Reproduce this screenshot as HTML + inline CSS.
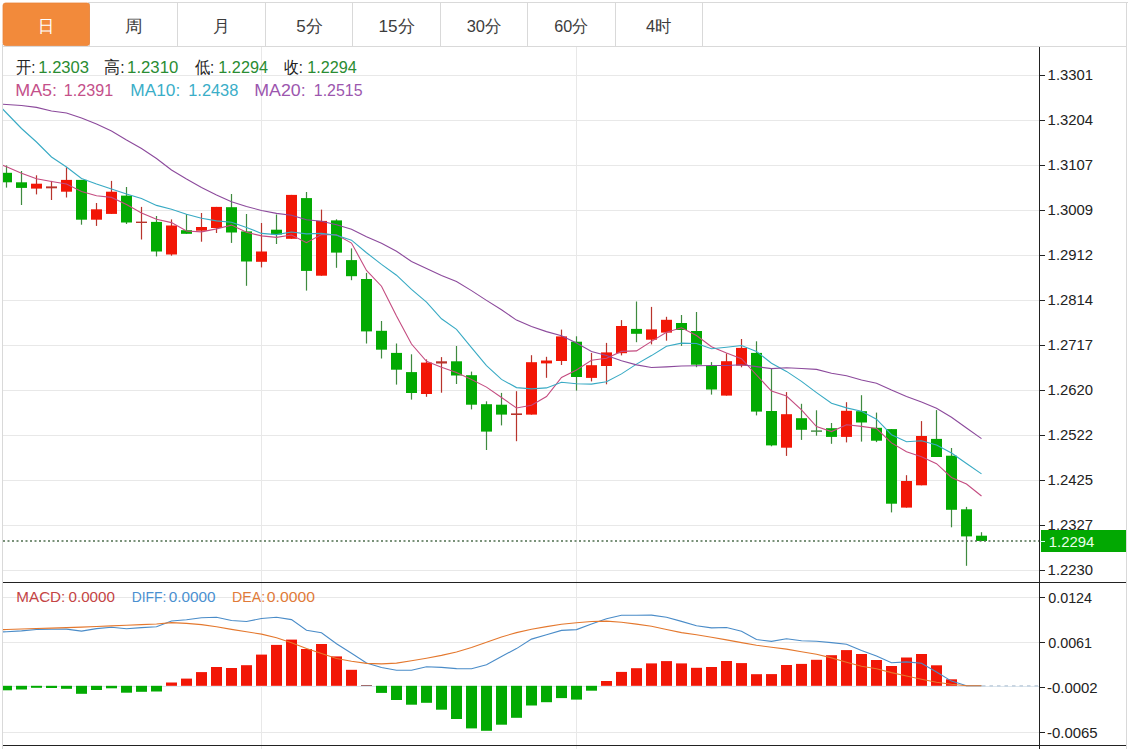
<!DOCTYPE html><html><head><meta charset="utf-8"><style>html,body{margin:0;padding:0;background:#fff;width:1135px;height:749px;overflow:hidden}svg{display:block}text{font-family:"Liberation Sans",sans-serif}</style></head><body>
<svg width="1135" height="749" viewBox="0 0 1135 749">
<rect width="1135" height="749" fill="#fff"/>
<g stroke="#e8e8e8" stroke-width="1" shape-rendering="crispEdges">
<line x1="3" y1="75.5" x2="1039" y2="75.5"/>
<line x1="3" y1="120.5" x2="1039" y2="120.5"/>
<line x1="3" y1="165.5" x2="1039" y2="165.5"/>
<line x1="3" y1="210.5" x2="1039" y2="210.5"/>
<line x1="3" y1="255.5" x2="1039" y2="255.5"/>
<line x1="3" y1="300.5" x2="1039" y2="300.5"/>
<line x1="3" y1="345.5" x2="1039" y2="345.5"/>
<line x1="3" y1="390.5" x2="1039" y2="390.5"/>
<line x1="3" y1="435.5" x2="1039" y2="435.5"/>
<line x1="3" y1="480.5" x2="1039" y2="480.5"/>
<line x1="3" y1="525.5" x2="1039" y2="525.5"/>
<line x1="3" y1="570.5" x2="1039" y2="570.5"/>
<line x1="3" y1="597.5" x2="1039" y2="597.5"/>
<line x1="3" y1="642.5" x2="1039" y2="642.5"/>
<line x1="3" y1="732.5" x2="1039" y2="732.5"/>
<line x1="3" y1="686.5" x2="1039" y2="686.5" stroke="#dce6ee"/>
<line x1="261.5" y1="47" x2="261.5" y2="749"/>
<line x1="576.5" y1="47" x2="576.5" y2="749"/>
</g>
<g stroke="#d9d9d9" stroke-width="1" shape-rendering="crispEdges" fill="none">
<line x1="2.5" y1="44" x2="2.5" y2="749"/>
<line x1="1126.5" y1="3" x2="1126.5" y2="749"/>
<line x1="88" y1="2.5" x2="1128" y2="2.5"/>
<line x1="2" y1="46.5" x2="1127" y2="46.5"/>
<line x1="89.5" y1="3" x2="89.5" y2="46"/>
<line x1="177.5" y1="3" x2="177.5" y2="46"/>
<line x1="265.5" y1="3" x2="265.5" y2="46"/>
<line x1="352.5" y1="3" x2="352.5" y2="46"/>
<line x1="440.5" y1="3" x2="440.5" y2="46"/>
<line x1="527.5" y1="3" x2="527.5" y2="46"/>
<line x1="615.5" y1="3" x2="615.5" y2="46"/>
<line x1="702.5" y1="3" x2="702.5" y2="46"/>
</g>
<path d="M5.5,3 H87 Q89.5,3 89.5,5.5 V43 Q89.5,45.5 87,45.5 H5.5 Q3,45.5 3,43 V5.5 Q3,3 5.5,3 Z" fill="#f28a3b" stroke="#e8843a" stroke-width="0.8"/>
<text x="16.00" y="73.00" font-size="16.7" fill="#222" textLength="19.48" lengthAdjust="spacingAndGlyphs">开:</text>
<text x="38.31" y="73.00" font-size="16.7" fill="#2a8c32" textLength="50.74" lengthAdjust="spacingAndGlyphs">1.2303</text>
<text x="104.26" y="73.00" font-size="16.7" fill="#222" textLength="20.34" lengthAdjust="spacingAndGlyphs">高:</text>
<text x="127.10" y="73.00" font-size="16.7" fill="#2a8c32" textLength="51.15" lengthAdjust="spacingAndGlyphs">1.2310</text>
<text x="194.70" y="73.00" font-size="16.7" fill="#222" textLength="19.37" lengthAdjust="spacingAndGlyphs">低:</text>
<text x="218.33" y="73.00" font-size="16.7" fill="#2a8c32" textLength="49.62" lengthAdjust="spacingAndGlyphs">1.2294</text>
<text x="283.80" y="73.00" font-size="16.7" fill="#222" textLength="18.96" lengthAdjust="spacingAndGlyphs">收:</text>
<text x="307.13" y="73.00" font-size="16.7" fill="#2a8c32" textLength="49.52" lengthAdjust="spacingAndGlyphs">1.2294</text>
<text x="15.23" y="96.20" font-size="16.7" fill="#c4508a" textLength="41.80" lengthAdjust="spacingAndGlyphs">MA5:</text>
<text x="63.73" y="96.20" font-size="16.7" fill="#c4508a" textLength="49.41" lengthAdjust="spacingAndGlyphs">1.2391</text>
<text x="130.26" y="96.20" font-size="16.7" fill="#3aaec8" textLength="50.02" lengthAdjust="spacingAndGlyphs">MA10:</text>
<text x="188.22" y="96.20" font-size="16.7" fill="#3aaec8" textLength="50.13" lengthAdjust="spacingAndGlyphs">1.2438</text>
<text x="254.23" y="96.20" font-size="16.7" fill="#9c56ae" textLength="51.38" lengthAdjust="spacingAndGlyphs">MA20:</text>
<text x="313.85" y="96.20" font-size="16.7" fill="#9c56ae" textLength="48.70" lengthAdjust="spacingAndGlyphs">1.2515</text>
<text x="37.89" y="31.50" font-size="17" fill="#fff" textLength="16.22" lengthAdjust="spacingAndGlyphs">日</text>
<text x="124.97" y="31.50" font-size="17" fill="#3c3c3c" textLength="17.57" lengthAdjust="spacingAndGlyphs">周</text>
<text x="213.11" y="31.50" font-size="17" fill="#3c3c3c" textLength="16.87" lengthAdjust="spacingAndGlyphs">月</text>
<text x="296.30" y="31.50" font-size="17" fill="#3c3c3c" textLength="26.36" lengthAdjust="spacingAndGlyphs">5分</text>
<text x="378.49" y="31.50" font-size="17" fill="#3c3c3c" textLength="36.24" lengthAdjust="spacingAndGlyphs">15分</text>
<text x="466.70" y="31.50" font-size="17" fill="#3c3c3c" textLength="34.69" lengthAdjust="spacingAndGlyphs">30分</text>
<text x="554.20" y="31.50" font-size="17" fill="#3c3c3c" textLength="34.07" lengthAdjust="spacingAndGlyphs">60分</text>
<text x="646.00" y="31.50" font-size="17" fill="#3c3c3c" textLength="25.45" lengthAdjust="spacingAndGlyphs">4时</text>
<defs><clipPath id="cm"><rect x="3" y="47" width="1036" height="535"/></clipPath><clipPath id="cd"><rect x="3" y="583" width="1036" height="162"/></clipPath></defs>
<g clip-path="url(#cm)">
<rect x="5.9" y="165.4" width="1.2" height="22.2" fill="#3f8a3f"/>
<rect x="1.0" y="172.8" width="11" height="9.5" fill="#02aa02"/>
<rect x="20.9" y="171.0" width="1.2" height="34.0" fill="#3f8a3f"/>
<rect x="16.0" y="182.3" width="11" height="5.6" fill="#02aa02"/>
<rect x="35.9" y="175.3" width="1.2" height="19.1" fill="#b8342c"/>
<rect x="31.0" y="183.7" width="11" height="4.9" fill="#f21606"/>
<rect x="50.9" y="180.9" width="1.2" height="19.1" fill="#b8342c"/>
<rect x="46.0" y="186.4" width="11" height="1.9" fill="#b8342c"/>
<rect x="65.9" y="167.3" width="1.2" height="30.2" fill="#b8342c"/>
<rect x="61.0" y="179.9" width="11" height="11.8" fill="#f21606"/>
<rect x="80.9" y="179.9" width="1.2" height="44.8" fill="#3f8a3f"/>
<rect x="76.0" y="179.9" width="11" height="39.8" fill="#02aa02"/>
<rect x="95.9" y="203.0" width="1.2" height="22.9" fill="#b8342c"/>
<rect x="91.0" y="209.3" width="11" height="10.4" fill="#f21606"/>
<rect x="110.9" y="180.9" width="1.2" height="33.0" fill="#b8342c"/>
<rect x="106.0" y="191.7" width="11" height="22.2" fill="#f21606"/>
<rect x="125.9" y="187.0" width="1.2" height="37.0" fill="#3f8a3f"/>
<rect x="121.0" y="195.6" width="11" height="26.9" fill="#02aa02"/>
<rect x="140.9" y="206.9" width="1.2" height="32.6" fill="#b8342c"/>
<rect x="136.0" y="221.6" width="11" height="1.4" fill="#b8342c"/>
<rect x="155.9" y="216.0" width="1.2" height="40.4" fill="#3f8a3f"/>
<rect x="151.0" y="221.9" width="11" height="29.6" fill="#02aa02"/>
<rect x="170.9" y="219.4" width="1.2" height="36.3" fill="#b8342c"/>
<rect x="166.0" y="225.5" width="11" height="29.0" fill="#f21606"/>
<rect x="185.9" y="214.0" width="1.2" height="19.8" fill="#3f8a3f"/>
<rect x="181.0" y="230.2" width="11" height="3.6" fill="#02aa02"/>
<rect x="200.9" y="213.0" width="1.2" height="28.7" fill="#b8342c"/>
<rect x="196.0" y="227.0" width="11" height="3.7" fill="#f21606"/>
<rect x="215.9" y="206.9" width="1.2" height="26.1" fill="#b8342c"/>
<rect x="211.0" y="206.9" width="11" height="21.1" fill="#f21606"/>
<rect x="230.9" y="194.0" width="1.2" height="48.9" fill="#3f8a3f"/>
<rect x="226.0" y="207.2" width="11" height="25.3" fill="#02aa02"/>
<rect x="245.9" y="214.0" width="1.2" height="71.8" fill="#3f8a3f"/>
<rect x="241.0" y="231.4" width="11" height="30.1" fill="#02aa02"/>
<rect x="260.9" y="223.0" width="1.2" height="44.4" fill="#b8342c"/>
<rect x="256.0" y="251.5" width="11" height="10.3" fill="#f21606"/>
<rect x="275.9" y="214.5" width="1.2" height="29.5" fill="#3f8a3f"/>
<rect x="271.0" y="229.7" width="11" height="4.8" fill="#02aa02"/>
<rect x="290.9" y="194.9" width="1.2" height="43.9" fill="#b8342c"/>
<rect x="286.0" y="194.9" width="11" height="43.9" fill="#f21606"/>
<rect x="305.9" y="192.0" width="1.2" height="98.6" fill="#3f8a3f"/>
<rect x="301.0" y="198.1" width="11" height="72.8" fill="#02aa02"/>
<rect x="320.9" y="209.6" width="1.2" height="66.1" fill="#b8342c"/>
<rect x="316.0" y="220.9" width="11" height="54.8" fill="#f21606"/>
<rect x="335.9" y="219.3" width="1.2" height="48.5" fill="#3f8a3f"/>
<rect x="331.0" y="220.4" width="11" height="32.2" fill="#02aa02"/>
<rect x="350.9" y="248.4" width="1.2" height="31.8" fill="#3f8a3f"/>
<rect x="346.0" y="260.1" width="11" height="16.1" fill="#02aa02"/>
<rect x="365.9" y="272.9" width="1.2" height="70.6" fill="#3f8a3f"/>
<rect x="361.0" y="279.0" width="11" height="52.4" fill="#02aa02"/>
<rect x="380.9" y="321.0" width="1.2" height="37.5" fill="#3f8a3f"/>
<rect x="376.0" y="330.8" width="11" height="18.9" fill="#02aa02"/>
<rect x="395.9" y="343.5" width="1.2" height="41.1" fill="#3f8a3f"/>
<rect x="391.0" y="352.9" width="11" height="16.8" fill="#02aa02"/>
<rect x="410.9" y="354.3" width="1.2" height="45.3" fill="#3f8a3f"/>
<rect x="406.0" y="372.1" width="11" height="20.9" fill="#02aa02"/>
<rect x="425.9" y="359.4" width="1.2" height="37.4" fill="#b8342c"/>
<rect x="421.0" y="362.6" width="11" height="31.4" fill="#f21606"/>
<rect x="440.9" y="357.1" width="1.2" height="35.6" fill="#b8342c"/>
<rect x="436.0" y="361.3" width="11" height="2.2" fill="#b8342c"/>
<rect x="455.9" y="346.0" width="1.2" height="38.0" fill="#3f8a3f"/>
<rect x="451.0" y="361.3" width="11" height="14.2" fill="#02aa02"/>
<rect x="470.9" y="371.6" width="1.2" height="37.8" fill="#3f8a3f"/>
<rect x="466.0" y="375.2" width="11" height="29.5" fill="#02aa02"/>
<rect x="485.9" y="401.3" width="1.2" height="48.7" fill="#3f8a3f"/>
<rect x="481.0" y="404.2" width="11" height="27.4" fill="#02aa02"/>
<rect x="500.9" y="392.9" width="1.2" height="32.5" fill="#3f8a3f"/>
<rect x="496.0" y="404.7" width="11" height="9.9" fill="#02aa02"/>
<rect x="515.9" y="391.2" width="1.2" height="50.0" fill="#b8342c"/>
<rect x="511.0" y="413.4" width="11" height="1.6" fill="#b8342c"/>
<rect x="530.9" y="355.2" width="1.2" height="59.4" fill="#b8342c"/>
<rect x="526.0" y="362.2" width="11" height="52.4" fill="#f21606"/>
<rect x="545.9" y="356.8" width="1.2" height="21.0" fill="#b8342c"/>
<rect x="541.0" y="360.5" width="11" height="2.9" fill="#f21606"/>
<rect x="560.9" y="329.6" width="1.2" height="35.4" fill="#b8342c"/>
<rect x="556.0" y="336.4" width="11" height="24.6" fill="#f21606"/>
<rect x="575.9" y="336.3" width="1.2" height="54.3" fill="#3f8a3f"/>
<rect x="571.0" y="341.7" width="11" height="35.3" fill="#02aa02"/>
<rect x="590.9" y="352.9" width="1.2" height="28.5" fill="#b8342c"/>
<rect x="586.0" y="365.2" width="11" height="12.7" fill="#f21606"/>
<rect x="605.9" y="342.9" width="1.2" height="41.4" fill="#b8342c"/>
<rect x="601.0" y="352.4" width="11" height="13.6" fill="#f21606"/>
<rect x="620.9" y="320.1" width="1.2" height="35.3" fill="#b8342c"/>
<rect x="616.0" y="326.0" width="11" height="27.2" fill="#f21606"/>
<rect x="635.9" y="301.5" width="1.2" height="40.7" fill="#3f8a3f"/>
<rect x="631.0" y="328.9" width="11" height="4.9" fill="#02aa02"/>
<rect x="650.9" y="306.9" width="1.2" height="37.5" fill="#b8342c"/>
<rect x="646.0" y="329.4" width="11" height="10.3" fill="#f21606"/>
<rect x="665.9" y="316.8" width="1.2" height="23.9" fill="#b8342c"/>
<rect x="661.0" y="319.8" width="11" height="12.8" fill="#f21606"/>
<rect x="680.9" y="315.0" width="1.2" height="30.9" fill="#3f8a3f"/>
<rect x="676.0" y="323.0" width="11" height="7.0" fill="#02aa02"/>
<rect x="695.9" y="312.0" width="1.2" height="55.2" fill="#3f8a3f"/>
<rect x="691.0" y="331.0" width="11" height="33.7" fill="#02aa02"/>
<rect x="710.9" y="362.1" width="1.2" height="32.5" fill="#3f8a3f"/>
<rect x="706.0" y="365.6" width="11" height="23.9" fill="#02aa02"/>
<rect x="725.9" y="353.4" width="1.2" height="42.2" fill="#b8342c"/>
<rect x="721.0" y="361.2" width="11" height="34.4" fill="#f21606"/>
<rect x="740.9" y="339.0" width="1.2" height="28.3" fill="#b8342c"/>
<rect x="736.0" y="347.9" width="11" height="17.7" fill="#f21606"/>
<rect x="755.9" y="341.3" width="1.2" height="74.1" fill="#3f8a3f"/>
<rect x="751.0" y="352.9" width="11" height="58.7" fill="#02aa02"/>
<rect x="770.9" y="369.0" width="1.2" height="77.3" fill="#3f8a3f"/>
<rect x="766.0" y="411.0" width="11" height="34.4" fill="#02aa02"/>
<rect x="785.9" y="392.1" width="1.2" height="63.8" fill="#b8342c"/>
<rect x="781.0" y="414.2" width="11" height="33.5" fill="#f21606"/>
<rect x="800.9" y="403.8" width="1.2" height="36.1" fill="#3f8a3f"/>
<rect x="796.0" y="418.2" width="11" height="11.6" fill="#02aa02"/>
<rect x="815.9" y="410.3" width="1.2" height="25.4" fill="#3f8a3f"/>
<rect x="811.0" y="430.4" width="11" height="1.4" fill="#3f8a3f"/>
<rect x="830.9" y="423.0" width="1.2" height="20.8" fill="#3f8a3f"/>
<rect x="826.0" y="428.2" width="11" height="8.7" fill="#02aa02"/>
<rect x="845.9" y="402.2" width="1.2" height="40.2" fill="#b8342c"/>
<rect x="841.0" y="410.8" width="11" height="26.1" fill="#f21606"/>
<rect x="860.9" y="395.2" width="1.2" height="46.4" fill="#3f8a3f"/>
<rect x="856.0" y="411.2" width="11" height="11.3" fill="#02aa02"/>
<rect x="875.9" y="412.6" width="1.2" height="29.5" fill="#3f8a3f"/>
<rect x="871.0" y="427.8" width="11" height="12.9" fill="#02aa02"/>
<rect x="890.9" y="429.1" width="1.2" height="83.3" fill="#3f8a3f"/>
<rect x="886.0" y="429.1" width="11" height="74.6" fill="#02aa02"/>
<rect x="905.9" y="475.2" width="1.2" height="32.4" fill="#b8342c"/>
<rect x="901.0" y="481.0" width="11" height="26.6" fill="#f21606"/>
<rect x="920.9" y="421.1" width="1.2" height="64.2" fill="#b8342c"/>
<rect x="916.0" y="436.0" width="11" height="49.3" fill="#f21606"/>
<rect x="935.9" y="410.1" width="1.2" height="46.9" fill="#3f8a3f"/>
<rect x="931.0" y="438.9" width="11" height="18.1" fill="#02aa02"/>
<rect x="950.9" y="448.0" width="1.2" height="79.3" fill="#3f8a3f"/>
<rect x="946.0" y="455.7" width="11" height="54.1" fill="#02aa02"/>
<rect x="965.9" y="506.9" width="1.2" height="58.9" fill="#3f8a3f"/>
<rect x="961.0" y="509.3" width="11" height="27.1" fill="#02aa02"/>
<rect x="980.9" y="532.2" width="1.2" height="8.8" fill="#3f8a3f"/>
<rect x="976.0" y="535.7" width="11" height="5.3" fill="#02aa02"/>
<polyline points="-8.5,160.4 6.5,166.8 21.5,173.2 36.5,178.8 51.5,181.5 66.5,184.0 81.5,191.5 96.5,195.8 111.5,197.4 126.5,204.6 141.5,213.0 156.5,219.3 171.5,222.6 186.5,231.0 201.5,231.9 216.5,228.9 231.5,225.1 246.5,232.3 261.5,235.9 276.5,237.4 291.5,235.0 306.5,242.7 321.5,234.5 336.5,234.8 351.5,243.1 366.5,270.4 381.5,286.2 396.5,315.9 411.5,344.0 426.5,361.3 441.5,367.3 456.5,372.4 471.5,379.4 486.5,387.1 501.5,397.5 516.5,408.0 531.5,405.3 546.5,396.5 561.5,377.4 576.5,369.9 591.5,360.3 606.5,358.3 621.5,351.4 636.5,350.9 651.5,341.4 666.5,332.3 681.5,327.8 696.5,335.5 711.5,346.7 726.5,353.0 741.5,358.7 756.5,375.0 771.5,391.1 786.5,396.1 801.5,409.8 816.5,426.6 831.5,431.6 846.5,424.7 861.5,426.4 876.5,428.5 891.5,442.9 906.5,451.7 921.5,456.8 936.5,463.7 951.5,477.5 966.5,484.0 981.5,496.0" fill="none" stroke="#c44c80" stroke-width="1.1"/>
<polyline points="-8.5,97.5 6.5,113.0 21.5,128.5 36.5,142.0 51.5,157.0 66.5,167.0 81.5,178.5 96.5,184.0 111.5,189.0 126.5,194.0 141.5,198.5 156.5,205.4 171.5,209.2 186.5,214.2 201.5,218.2 216.5,220.9 231.5,222.2 246.5,227.4 261.5,233.4 276.5,234.6 291.5,232.0 306.5,233.9 321.5,233.4 336.5,235.3 351.5,240.2 366.5,252.7 381.5,264.4 396.5,275.2 411.5,289.4 426.5,302.2 441.5,318.8 456.5,329.3 471.5,347.7 486.5,365.6 501.5,379.4 516.5,387.6 531.5,388.9 546.5,387.9 561.5,382.3 576.5,383.7 591.5,384.1 606.5,381.8 621.5,373.9 636.5,364.1 651.5,355.6 666.5,346.3 681.5,343.1 696.5,343.5 711.5,348.8 726.5,347.2 741.5,345.5 756.5,351.4 771.5,363.3 786.5,371.4 801.5,381.4 816.5,392.6 831.5,403.3 846.5,407.9 861.5,411.2 876.5,419.2 891.5,434.7 906.5,441.7 921.5,440.7 936.5,445.0 951.5,453.0 966.5,463.5 981.5,473.9" fill="none" stroke="#38aac4" stroke-width="1.1"/>
<polyline points="-8.5,103.5 6.5,104.5 21.5,105.5 36.5,107.4 51.5,111.0 66.5,113.0 81.5,118.0 96.5,124.0 111.5,131.0 126.5,140.0 141.5,148.5 156.5,158.5 171.5,170.0 186.5,179.0 201.5,187.5 216.5,195.0 231.5,201.7 246.5,206.5 261.5,210.5 276.5,213.4 291.5,215.2 306.5,219.7 321.5,221.3 336.5,224.8 351.5,229.2 366.5,236.8 381.5,243.3 396.5,251.3 411.5,261.4 426.5,268.4 441.5,275.4 456.5,281.6 471.5,290.6 486.5,300.4 501.5,309.8 516.5,320.1 531.5,326.6 546.5,331.6 561.5,335.8 576.5,343.0 591.5,351.5 606.5,355.5 621.5,360.8 636.5,364.9 651.5,367.5 666.5,366.9 681.5,366.0 696.5,365.7 711.5,365.5 726.5,365.5 741.5,364.8 756.5,366.6 771.5,368.6 786.5,367.8 801.5,368.5 816.5,369.4 831.5,373.2 846.5,375.7 861.5,380.0 876.5,383.2 891.5,390.1 906.5,396.5 921.5,402.0 936.5,408.2 951.5,417.2 966.5,428.0 981.5,438.6" fill="none" stroke="#8c4a9c" stroke-width="1.1"/>
<line x1="3" y1="541" x2="1039" y2="541" stroke="#4d6d4d" stroke-width="1.5" stroke-dasharray="2,2.5"/>
</g>
<g clip-path="url(#cd)">
<rect x="1.0" y="685.8" width="11" height="4.5" fill="#02aa02"/>
<rect x="16.0" y="685.8" width="11" height="3.7" fill="#02aa02"/>
<rect x="31.0" y="685.8" width="11" height="2.0" fill="#02aa02"/>
<rect x="46.0" y="685.8" width="11" height="2.2" fill="#02aa02"/>
<rect x="61.0" y="685.8" width="11" height="3.0" fill="#02aa02"/>
<rect x="76.0" y="685.8" width="11" height="8.0" fill="#02aa02"/>
<rect x="91.0" y="685.8" width="11" height="4.2" fill="#02aa02"/>
<rect x="106.0" y="685.8" width="11" height="2.5" fill="#02aa02"/>
<rect x="121.0" y="685.8" width="11" height="6.9" fill="#02aa02"/>
<rect x="136.0" y="685.8" width="11" height="6.0" fill="#02aa02"/>
<rect x="151.0" y="685.8" width="11" height="5.7" fill="#02aa02"/>
<rect x="166.0" y="682.5" width="11" height="3.3" fill="#f21606"/>
<rect x="181.0" y="678.6" width="11" height="7.2" fill="#f21606"/>
<rect x="196.0" y="672.1" width="11" height="13.7" fill="#f21606"/>
<rect x="211.0" y="667.0" width="11" height="18.8" fill="#f21606"/>
<rect x="226.0" y="668.0" width="11" height="17.8" fill="#f21606"/>
<rect x="241.0" y="665.2" width="11" height="20.6" fill="#f21606"/>
<rect x="256.0" y="654.6" width="11" height="31.2" fill="#f21606"/>
<rect x="271.0" y="644.9" width="11" height="40.9" fill="#f21606"/>
<rect x="286.0" y="639.6" width="11" height="46.2" fill="#f21606"/>
<rect x="301.0" y="649.0" width="11" height="36.8" fill="#f21606"/>
<rect x="316.0" y="644.0" width="11" height="41.8" fill="#f21606"/>
<rect x="331.0" y="656.4" width="11" height="29.4" fill="#f21606"/>
<rect x="346.0" y="669.8" width="11" height="16.0" fill="#f21606"/>
<rect x="361.0" y="685.0" width="11" height="0.8" fill="#8a4848"/>
<rect x="376.0" y="685.8" width="11" height="7.1" fill="#02aa02"/>
<rect x="391.0" y="685.8" width="11" height="14.2" fill="#02aa02"/>
<rect x="406.0" y="685.8" width="11" height="18.9" fill="#02aa02"/>
<rect x="421.0" y="685.8" width="11" height="17.0" fill="#02aa02"/>
<rect x="436.0" y="685.8" width="11" height="23.9" fill="#02aa02"/>
<rect x="451.0" y="685.8" width="11" height="33.2" fill="#02aa02"/>
<rect x="466.0" y="685.8" width="11" height="42.6" fill="#02aa02"/>
<rect x="481.0" y="685.8" width="11" height="45.0" fill="#02aa02"/>
<rect x="496.0" y="685.8" width="11" height="38.9" fill="#02aa02"/>
<rect x="511.0" y="685.8" width="11" height="32.0" fill="#02aa02"/>
<rect x="526.0" y="685.8" width="11" height="19.7" fill="#02aa02"/>
<rect x="541.0" y="685.8" width="11" height="16.4" fill="#02aa02"/>
<rect x="556.0" y="685.8" width="11" height="12.3" fill="#02aa02"/>
<rect x="571.0" y="685.8" width="11" height="13.8" fill="#02aa02"/>
<rect x="586.0" y="685.8" width="11" height="4.9" fill="#02aa02"/>
<rect x="601.0" y="681.0" width="11" height="4.8" fill="#f21606"/>
<rect x="616.0" y="671.9" width="11" height="13.9" fill="#f21606"/>
<rect x="631.0" y="668.2" width="11" height="17.6" fill="#f21606"/>
<rect x="646.0" y="663.4" width="11" height="22.4" fill="#f21606"/>
<rect x="661.0" y="661.1" width="11" height="24.7" fill="#f21606"/>
<rect x="676.0" y="663.4" width="11" height="22.4" fill="#f21606"/>
<rect x="691.0" y="667.8" width="11" height="18.0" fill="#f21606"/>
<rect x="706.0" y="667.0" width="11" height="18.8" fill="#f21606"/>
<rect x="721.0" y="661.0" width="11" height="24.8" fill="#f21606"/>
<rect x="736.0" y="663.1" width="11" height="22.7" fill="#f21606"/>
<rect x="751.0" y="674.2" width="11" height="11.6" fill="#f21606"/>
<rect x="766.0" y="674.1" width="11" height="11.7" fill="#f21606"/>
<rect x="781.0" y="665.0" width="11" height="20.8" fill="#f21606"/>
<rect x="796.0" y="663.9" width="11" height="21.9" fill="#f21606"/>
<rect x="811.0" y="659.8" width="11" height="26.0" fill="#f21606"/>
<rect x="826.0" y="655.2" width="11" height="30.6" fill="#f21606"/>
<rect x="841.0" y="650.1" width="11" height="35.7" fill="#f21606"/>
<rect x="856.0" y="654.0" width="11" height="31.8" fill="#f21606"/>
<rect x="871.0" y="660.0" width="11" height="25.8" fill="#f21606"/>
<rect x="886.0" y="666.0" width="11" height="19.8" fill="#f21606"/>
<rect x="901.0" y="657.5" width="11" height="28.3" fill="#f21606"/>
<rect x="916.0" y="654.0" width="11" height="31.8" fill="#f21606"/>
<rect x="931.0" y="665.3" width="11" height="20.5" fill="#f21606"/>
<rect x="946.0" y="679.3" width="11" height="6.5" fill="#f21606"/>
<polyline points="-8.5,632.6 6.5,631.7 21.5,630.9 36.5,629.5 51.5,629.2 66.5,629.1 81.5,631.1 96.5,628.6 111.5,627.2 126.5,628.8 141.5,627.6 156.5,626.8 171.5,621.0 186.5,619.8 201.5,617.8 216.5,617.3 231.5,620.5 246.5,621.5 261.5,618.5 276.5,617.2 291.5,619.6 306.5,630.2 321.5,632.7 336.5,643.8 351.5,653.3 366.5,663.0 381.5,667.5 396.5,670.2 411.5,670.2 426.5,666.7 441.5,667.4 456.5,668.6 471.5,668.8 486.5,664.7 501.5,656.4 516.5,648.6 531.5,639.1 546.5,634.8 561.5,630.4 576.5,629.6 591.5,623.9 606.5,618.7 621.5,615.3 636.5,615.3 651.5,615.1 666.5,617.2 681.5,621.4 696.5,625.8 711.5,627.9 726.5,627.5 741.5,631.3 756.5,639.5 771.5,641.4 786.5,638.7 801.5,640.7 816.5,641.3 831.5,642.6 846.5,644.3 861.5,650.4 876.5,655.9 891.5,662.7 906.5,661.9 921.5,663.3 936.5,672.0 951.5,681.1 966.5,685.8 981.5,685.8" fill="none" stroke="#4a8cc8" stroke-width="1.1"/>
<polyline points="-8.5,629.9 6.5,629.5 21.5,629.0 36.5,628.5 51.5,628.1 66.5,627.6 81.5,627.1 96.5,626.5 111.5,625.9 126.5,625.3 141.5,624.6 156.5,624.0 171.5,622.6 186.5,623.4 201.5,624.6 216.5,626.7 231.5,629.4 246.5,631.8 261.5,634.1 276.5,637.7 291.5,642.7 306.5,648.6 321.5,653.6 336.5,658.5 351.5,661.3 366.5,663.4 381.5,663.9 396.5,663.1 411.5,660.7 426.5,658.2 441.5,655.4 456.5,652.0 471.5,647.5 486.5,642.2 501.5,636.9 516.5,632.6 531.5,629.3 546.5,626.6 561.5,624.2 576.5,622.7 591.5,621.5 606.5,621.1 621.5,622.2 636.5,624.1 651.5,626.3 666.5,629.5 681.5,632.6 696.5,634.8 711.5,637.3 726.5,639.9 741.5,642.6 756.5,645.3 771.5,647.2 786.5,649.1 801.5,651.7 816.5,654.3 831.5,657.9 846.5,662.2 861.5,666.3 876.5,668.8 891.5,672.6 906.5,676.0 921.5,679.2 936.5,682.3 951.5,684.3 966.5,685.8 981.5,685.8" fill="none" stroke="#e4782e" stroke-width="1.1"/>
<line x1="982" y1="685.8" x2="1039" y2="685.8" stroke="#b8c8d8" stroke-width="1.2" stroke-dasharray="3.5,4"/>
</g>
<text x="16.30" y="602.00" font-size="15" fill="#c44444" textLength="49.05" lengthAdjust="spacingAndGlyphs">MACD:</text>
<text x="68.50" y="602.00" font-size="15" fill="#c44444" textLength="46.49" lengthAdjust="spacingAndGlyphs">0.0000</text>
<text x="131.70" y="602.00" font-size="15" fill="#4a90d0" textLength="34.66" lengthAdjust="spacingAndGlyphs">DIFF:</text>
<text x="168.70" y="602.00" font-size="15" fill="#4a90d0" textLength="46.89" lengthAdjust="spacingAndGlyphs">0.0000</text>
<text x="232.10" y="602.00" font-size="15" fill="#e07a38" textLength="33.06" lengthAdjust="spacingAndGlyphs">DEA:</text>
<text x="266.80" y="602.00" font-size="15" fill="#e07a38" textLength="48.09" lengthAdjust="spacingAndGlyphs">0.0000</text>
<g stroke="#222" stroke-width="1" shape-rendering="crispEdges">
<line x1="1039.5" y1="47" x2="1039.5" y2="749"/>
<line x1="3" y1="582.5" x2="1126" y2="582.5"/>
<line x1="3" y1="745.5" x2="1126" y2="745.5"/>
<line x1="1040" y1="75.5" x2="1045" y2="75.5"/>
<line x1="1040" y1="120.5" x2="1045" y2="120.5"/>
<line x1="1040" y1="165.5" x2="1045" y2="165.5"/>
<line x1="1040" y1="210.5" x2="1045" y2="210.5"/>
<line x1="1040" y1="255.5" x2="1045" y2="255.5"/>
<line x1="1040" y1="300.5" x2="1045" y2="300.5"/>
<line x1="1040" y1="345.5" x2="1045" y2="345.5"/>
<line x1="1040" y1="390.5" x2="1045" y2="390.5"/>
<line x1="1040" y1="435.5" x2="1045" y2="435.5"/>
<line x1="1040" y1="480.5" x2="1045" y2="480.5"/>
<line x1="1040" y1="525.5" x2="1045" y2="525.5"/>
<line x1="1040" y1="570.5" x2="1045" y2="570.5"/>
<line x1="1040" y1="597.5" x2="1045" y2="597.5"/>
<line x1="1040" y1="642.5" x2="1045" y2="642.5"/>
<line x1="1040" y1="687.5" x2="1045" y2="687.5"/>
<line x1="1040" y1="732.5" x2="1045" y2="732.5"/>
</g>
<text x="1047.61" y="80.20" font-size="15" fill="#222" textLength="45.47" lengthAdjust="spacingAndGlyphs">1.3301</text>
<text x="1047.61" y="125.20" font-size="15" fill="#222" textLength="45.47" lengthAdjust="spacingAndGlyphs">1.3204</text>
<text x="1047.61" y="170.20" font-size="15" fill="#222" textLength="45.47" lengthAdjust="spacingAndGlyphs">1.3107</text>
<text x="1047.61" y="215.20" font-size="15" fill="#222" textLength="45.47" lengthAdjust="spacingAndGlyphs">1.3009</text>
<text x="1047.61" y="260.20" font-size="15" fill="#222" textLength="45.47" lengthAdjust="spacingAndGlyphs">1.2912</text>
<text x="1047.61" y="305.20" font-size="15" fill="#222" textLength="45.47" lengthAdjust="spacingAndGlyphs">1.2814</text>
<text x="1047.61" y="350.20" font-size="15" fill="#222" textLength="45.47" lengthAdjust="spacingAndGlyphs">1.2717</text>
<text x="1047.61" y="395.20" font-size="15" fill="#222" textLength="45.47" lengthAdjust="spacingAndGlyphs">1.2620</text>
<text x="1047.61" y="440.20" font-size="15" fill="#222" textLength="45.47" lengthAdjust="spacingAndGlyphs">1.2522</text>
<text x="1047.61" y="485.20" font-size="15" fill="#222" textLength="45.47" lengthAdjust="spacingAndGlyphs">1.2425</text>
<text x="1047.61" y="530.20" font-size="15" fill="#222" textLength="45.47" lengthAdjust="spacingAndGlyphs">1.2327</text>
<text x="1047.61" y="575.20" font-size="15" fill="#222" textLength="45.47" lengthAdjust="spacingAndGlyphs">1.2230</text>
<rect x="1041" y="530" width="85" height="22" fill="#02a802"/>
<line x1="1040" y1="541.5" x2="1045" y2="541.5" stroke="#cfe" stroke-width="1"/>
<text x="1048.70" y="546.60" font-size="15" fill="#e8ffe8" textLength="45.68" lengthAdjust="spacingAndGlyphs">1.2294</text>
<text x="1048.20" y="602.50" font-size="15" fill="#222" textLength="43.90" lengthAdjust="spacingAndGlyphs">0.0124</text>
<text x="1048.20" y="647.50" font-size="15" fill="#222" textLength="43.90" lengthAdjust="spacingAndGlyphs">0.0061</text>
<text x="1047.00" y="692.50" font-size="15" fill="#222" textLength="50.67" lengthAdjust="spacingAndGlyphs">-0.0002</text>
<text x="1047.00" y="737.50" font-size="15" fill="#222" textLength="50.67" lengthAdjust="spacingAndGlyphs">-0.0065</text>
</svg></body></html>
